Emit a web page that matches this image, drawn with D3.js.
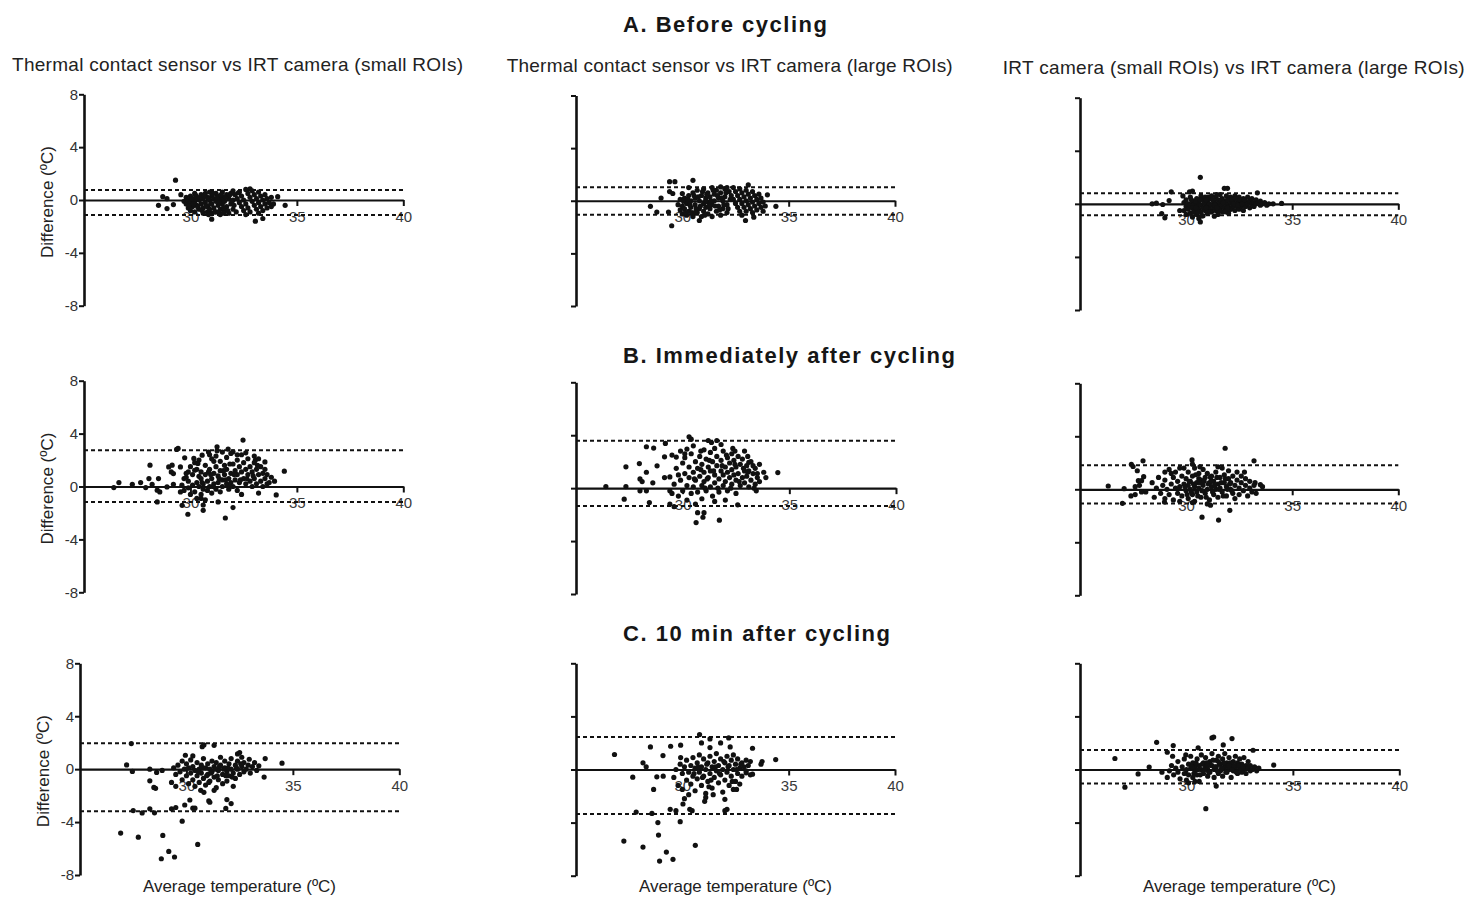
<!DOCTYPE html>
<html>
<head>
<meta charset="utf-8">
<script src="https://cdn.jsdelivr.net/npm/d3@7"></script>
<style>
  body { margin: 0; background: #fff; }
  svg { display: block; }
  text { font-family: "Liberation Sans", Arial, Helvetica, sans-serif; }
</style>
</head>
<body>
<svg id="chart" width="1469" height="897"></svg>
<script>
// Bland–Altman plots: difference vs average temperature (ºC)

const sectionTitles = ["A. Before cycling", "B. Immediately after cycling", "C. 10 min after cycling"];
const columnTitles = [
  "Thermal contact sensor vs IRT camera (small ROIs)",
  "Thermal contact sensor vs IRT camera (large ROIs)",
  "IRT camera (small ROIs) vs IRT camera (large ROIs)"
];
const yAxisTitle = "Difference (ºC)";
const xAxisTitle = "Average temperature (ºC)";
const xTicks = [30, 35, 40];
const yTicks = [-8, -4, 0, 4, 8];

// Limits of agreement (upper / lower), row by row, column by column
const loaUpper = [0.76, 1.03, 0.79, 2.75, 3.58, 1.82, 1.95, 2.45, 1.46];
const loaLower = [-1.14, -1.06, -0.86, -1.17, -1.34, -1.08, -3.18, -3.36, -1.06];

// [average temperature, difference]
const beforeSmall = [
 [29.3,1.5],[28.7,0.25],[28.9,0.1],[28.5,-0.4],[28.9,-0.65],[29.2,-0.35],[29.55,0.4],[31.0,-1.45],[33.05,-1.6],[33.4,-1.4],[34.1,0.25],[34.45,-0.4],[32.8,0.85],
 [29.7,-0.1],[29.8,0.2],[29.8,-0.3],[29.9,-0.6],[29.9,0.0],[30.0,0.3],[30.0,-0.2],[30.0,-0.8],[30.1,0.1],[30.1,-0.5],[30.2,0.5],[30.2,-0.1],[30.2,-0.9],[30.3,0.2],[30.3,-0.4],[30.4,0.0],[30.4,-0.7],[30.5,0.4],[30.5,-0.3],[30.6,0.1],[30.6,-1.0],[30.6,-0.6],
 [30.7,0.5],[30.7,-0.2],[30.8,0.2],[30.8,-0.5],[30.8,-0.9],[30.9,0.6],[30.9,0.0],[30.9,-0.7],[31.0,0.3],[31.0,-0.3],[31.0,-1.0],[31.1,0.1],[31.1,-0.6],[31.2,0.5],[31.2,-0.1],[31.2,-0.9],[31.3,0.3],[31.3,-0.4],[31.4,0.0],[31.4,-0.7],[31.4,-1.1],[31.5,0.6],[31.5,0.2],[31.5,-0.3],[31.6,-0.1],[31.6,-0.8],[31.7,0.4],[31.7,-0.5],[31.8,0.1],[31.8,-1.0],[31.9,0.5],[31.9,-0.3],[32.0,0.0],[32.0,-0.7],
 [29.95,-0.45],[30.05,0.1],[30.15,-0.3],[30.25,0.35],[30.35,-0.55],[30.45,0.2],[30.55,-0.8],[30.65,0.35],[30.75,-0.45],[30.85,0.1],[30.95,-0.3],[31.05,0.5],[31.15,-0.9],[31.25,0.15],[31.35,-0.2],[31.45,0.4],[31.55,-0.6],[31.65,0.2],[31.75,-0.8],[31.85,0.4],[31.95,-0.1],[32.05,-0.4],[32.15,-0.9],[32.25,0.55],[31.35,-0.9],[30.85,-1.1],[31.55,-1.0],
 [32.0,0.7],[32.1,0.4],[32.2,0.1],[32.3,-0.2],[32.4,-0.5],[32.5,-0.8],[32.6,-1.1],
 [32.3,0.6],[32.4,0.3],[32.5,0.0],[32.6,-0.3],[32.7,-0.6],[32.8,-0.9],
 [32.6,0.8],[32.7,0.5],[32.8,0.2],[32.9,-0.1],[33.0,-0.4],[33.1,-0.7],[33.2,-1.0],
 [32.9,0.7],[33.0,0.4],[33.1,0.1],[33.2,-0.2],[33.3,-0.5],[33.4,-0.8],
 [33.2,0.6],[33.3,0.3],[33.4,0.0],[33.5,-0.3],[33.6,-0.6],
 [33.5,0.4],[33.6,0.1],[33.7,-0.2],[33.8,-0.5],[33.8,0.2],[33.9,-0.3]
];

const beforeLarge = [
 [29.4,1.45],[29.65,1.45],[30.5,1.55],[29.4,0.7],[29.55,0.55],[30.0,0.55],[30.3,1.0],[29.0,0.2],[28.5,-0.42],[28.8,-0.86],[29.35,-0.86],[29.5,-1.9],[30.8,-1.5],[32.97,-1.5],[33.36,-1.25],[34.0,0.45],[34.4,-0.42],[33.1,1.2],[31.8,1.05],
 [29.8,-0.3],[29.9,-0.7],[29.9,0.1],[30.0,-1.0],[30.0,-0.4],[30.1,0.2],[30.1,-0.6],[30.2,-1.1],[30.2,-0.2],[30.3,0.4],[30.3,-0.8],[30.4,0.0],[30.4,-0.5],[30.5,-1.2],[30.5,0.6],[30.6,-0.3],[30.6,0.2],[30.7,-0.9],[30.7,0.8],[30.8,0.0],[30.8,-0.6],[30.9,0.4],[30.9,-1.2],[31.0,-0.2],[31.0,0.9],[31.0,-0.8],[31.1,0.2],[31.1,-0.5],[31.2,0.6],[31.2,-1.0],[31.2,-0.1],[31.3,0.3],[31.3,-0.6],[31.4,1.0],[31.4,-0.3],[31.4,-1.2],[31.5,0.5],[31.5,0.0],[31.6,-0.8],[31.6,0.8],[31.7,0.2],[31.7,-0.4],[31.8,-1.1],[31.8,0.6],[31.9,0.0],[31.9,-0.6],[32.0,0.9],[32.0,0.3],[32.1,-0.3],[32.1,-0.9],
 [30.05,0.0],[30.15,-0.9],[30.25,0.1],[30.35,-0.3],[30.45,-0.9],[30.55,0.4],[30.65,-0.6],[30.75,0.3],[30.85,-0.4],[30.95,0.7],[31.05,-1.1],[31.15,0.5],[31.25,-0.4],[31.35,0.0],[31.45,0.8],[31.55,-0.4],[31.65,0.4],[31.75,-0.7],[31.85,0.2],[31.95,-0.3],[32.05,0.6],[32.15,-0.6],[32.25,0.1],[31.1,0.0],[30.6,-0.9],
 [32.1,1.0],[32.2,0.7],[32.3,0.4],[32.4,0.1],[32.5,-0.2],[32.6,-0.5],[32.7,-0.8],[32.8,-1.1],
 [32.4,1.0],[32.5,0.7],[32.6,0.4],[32.7,0.1],[32.8,-0.2],[32.9,-0.5],[33.0,-0.8],
 [32.7,0.9],[32.8,0.6],[32.9,0.3],[33.0,0.0],[33.1,-0.3],[33.2,-0.6],[33.3,-0.9],
 [33.0,0.8],[33.1,0.5],[33.2,0.2],[33.3,-0.1],[33.4,-0.4],[33.5,-0.7],
 [33.3,0.7],[33.4,0.4],[33.5,0.1],[33.6,-0.2],[33.7,-0.5],[33.8,-0.8],
 [33.6,0.5],[33.7,0.2],[33.8,-0.1],[33.9,-0.4]
];

const beforeRoi = [
 [30.67,2.0],[30.67,-1.36],[29.3,0.91],[30.16,0.91],[30.3,0.96],[28.4,0.0],[28.6,0.05],[28.9,-0.05],[28.85,-0.73],[29.0,-1.05],[29.7,-0.5],[29.2,0.25],[29.85,0.6],[31.8,1.17],[31.95,1.17],[33.36,0.83],[34.5,0.03],[31.33,-0.93],
 [29.9,0.1],[29.9,-0.5],[30.0,0.3],[30.0,-0.2],[30.0,-0.8],[30.1,0.0],[30.1,-0.4],[30.2,0.5],[30.2,-0.1],[30.2,-0.7],[30.3,0.2],[30.3,-0.3],[30.3,-1.0],[30.4,0.0],[30.4,-0.5],[30.5,0.4],[30.5,-0.2],[30.5,-0.8],[30.6,0.1],[30.6,-0.4],[30.6,-1.1],[30.7,0.6],[30.7,-0.1],[30.7,-0.6],[30.8,0.3],[30.8,-0.3],[30.8,-0.9],[30.9,0.0],[30.9,-0.5],[30.9,0.5],[31.0,0.2],[31.0,-0.2],[31.0,-0.7],[31.1,0.4],[31.1,-0.4],[31.1,0.0],[31.2,0.6],[31.2,-0.1],[31.2,-0.6],[31.3,0.2],[31.3,-0.3],[31.4,0.5],[31.4,0.0],[31.4,-0.5],[31.5,0.3],[31.5,-0.2],[31.5,-0.8],[31.6,0.7],[31.6,0.1],[31.6,-0.4],[31.7,0.4],[31.7,-0.1],[31.7,-0.6],[31.8,0.2],[31.8,-0.3],[31.9,0.6],[31.9,0.0],[31.9,-0.5],[32.0,0.3],[32.0,-0.2],[32.0,-0.7],[32.1,0.5],[32.1,0.1],[32.1,-0.4],[32.2,0.2],[32.2,-0.2],[32.3,0.6],[32.3,0.0],[32.3,-0.5],[32.4,0.3],[32.4,-0.2],[32.5,0.1],[32.5,-0.4],[32.5,0.5],[32.6,0.2],[32.6,-0.2],[32.7,0.4],[32.7,0.0],[32.7,-0.5],[32.8,0.2],[32.8,-0.2],[32.9,0.5],[32.9,0.0],[33.0,0.2],[33.0,-0.3],[33.1,0.4],[33.1,0.0],[33.2,0.1],[33.2,-0.2],[33.3,0.3],[33.3,0.0],[33.4,0.1],[33.5,-0.1],[33.5,0.2],[33.6,0.0],[33.7,0.1],[33.8,-0.1],[33.9,0.0],[34.1,0.0],
 [30.25,0.3],[30.35,-0.6],[30.45,0.2],[30.55,-0.6],[30.65,0.3],[30.75,-0.9],[30.85,0.1],[30.95,-0.3],[31.05,0.5],[31.15,-0.6],[31.25,0.3],[31.35,-0.1],[31.45,0.7],[31.55,-0.5],[31.65,0.3],[31.75,0.1],[31.85,-0.6],[31.95,0.3],[32.05,-0.4],[32.15,0.3],[32.25,0.0],[32.35,0.4],[32.45,-0.1],[32.55,0.3],[32.65,0.0],[32.75,0.3],[30.45,-0.3],[30.95,0.3],[31.45,-0.3],[31.95,-0.3]
];

const immSmall = [
 [26.4,-0.08],[26.64,0.3],[27.27,0.17],[27.66,0.3],[27.9,-0.08],[28.05,0.6],[28.1,1.61],[28.2,0.17],[28.44,-0.28],[28.56,-0.41],[28.5,0.6],[28.44,-1.17],[28.9,-0.03],[28.98,1.48],[29.14,1.61],[29.1,1.1],[29.2,0.98],[29.35,2.8],[29.42,2.88],[29.2,0.17],[29.53,1.48],[29.53,-0.41],[29.61,-1.42],[29.73,2.17],[29.88,-2.1],[29.8,0.7],[29.9,1.1],[30.16,2.12],[30.2,1.23],[30.35,1.74],[30.4,0.77],[30.55,2.37],[30.5,-0.9],[30.6,-1.4],[30.6,-1.8],[30.85,2.6],[30.9,2.4],[31.25,3.0],[31.1,1.9],[31.3,-1.17],[31.77,2.83],[31.85,1.7],[31.64,-2.38],[32.0,-1.59],[32.0,2.62],[32.2,2.4],[32.47,3.51],[32.6,2.55],[32.4,-0.6],[33.0,2.3],[33.05,2.0],[33.5,1.86],[33.2,-0.5],[33.6,0.2],[33.8,0.7],[33.95,0.4],[34.03,-0.64],[34.41,1.16],
 [29.6,0.1],[29.7,-0.3],[29.7,0.6],[29.8,1.0],[29.9,-0.1],[29.9,0.4],[30.0,1.5],[30.0,-0.6],[30.1,0.1],[30.1,0.9],[30.2,-0.4],[30.2,1.8],[30.3,0.3],[30.3,-0.9],[30.3,1.3],[30.4,0.0],[30.4,2.0],[30.5,-0.6],[30.5,0.6],[30.5,1.1],[30.6,-0.2],[30.6,0.2],[30.7,-1.0],[30.7,0.9],[30.7,1.6],[30.8,0.4],[30.8,-0.3],[30.9,1.3],[30.9,0.0],[31.0,2.1],[31.0,0.6],[31.0,-0.5],[31.1,1.0],[31.1,0.2],[31.2,2.3],[31.2,1.5],[31.2,-0.2],[31.3,0.8],[31.3,0.3],[31.4,1.9],[31.4,1.2],[31.4,-0.4],[31.5,0.5],[31.5,2.6],[31.5,0.0],[31.6,1.6],[31.6,0.9],[31.7,0.2],[31.7,2.2],[31.7,1.3],[31.8,0.6],[31.8,-0.2],[31.9,1.0],[31.9,2.5],[31.9,0.3],[32.0,1.7],[32.0,0.0],[32.1,1.2],[32.1,0.5],[32.2,2.0],[32.2,0.9],[32.2,-0.3],[32.3,1.5],[32.3,0.3],[32.4,1.1],[32.4,2.4],[32.5,0.6],[32.5,1.8],[32.6,0.2],[32.6,1.3],[32.7,0.9],[32.7,2.1],[32.8,0.4],[32.8,1.5],[32.9,1.1],[32.9,0.0],[33.0,1.8],[33.0,0.6],[33.1,1.3],[33.1,0.2],[33.2,0.9],[33.2,2.1],[33.3,1.5],[33.3,0.4],[33.4,1.0],[33.4,0.0],[33.5,0.6],[33.5,1.3],[33.6,0.9],[33.7,0.3],
 [30.55,0.3],[30.85,1.1],[31.05,0.0],[31.35,0.6],[31.55,1.2],[31.85,0.0],[32.05,0.9],[32.35,0.5],[32.65,0.6],[32.95,0.8],[33.15,1.6],[31.25,2.7],[31.65,0.5],[30.95,0.9]
];

const immLarge = [
 [26.4,0.12],[27.34,0.12],[27.34,1.61],[27.26,-0.83],[27.97,1.86],[28.0,0.7],[28.1,0.5],[28.0,-0.2],[28.3,-0.2],[28.3,3.13],[28.64,3.03],[28.3,1.2],[28.44,-1.09],[28.6,0.4],[28.8,1.69],[29.15,2.37],[29.19,3.38],[29.15,0.8],[29.4,0.85],[29.5,2.5],[29.7,2.35],[29.4,-0.2],[29.5,-0.4],[29.4,-1.2],[29.6,-1.4],[29.9,2.8],[30.1,2.6],[29.8,1.0],[30.3,3.88],[30.4,3.7],[30.2,2.95],[30.5,3.2],[30.7,-1.85],[31.0,-1.85],[30.95,-2.2],[30.63,-2.6],[30.85,2.8],[31.2,3.6],[31.35,3.45],[31.6,3.6],[31.72,-2.42],[31.5,-1.0],[32.0,-0.9],[31.8,3.3],[32.35,3.0],[32.45,2.8],[32.9,2.8],[32.58,-1.26],[33.05,2.4],[33.1,1.95],[33.3,1.7],[33.6,1.8],[33.8,1.2],[33.9,0.8],[33.6,0.5],[33.35,0.0],[33.45,-0.2],[34.46,1.18],[32.5,-0.4],
 [29.6,0.3],[29.7,1.5],[29.8,-0.6],[29.9,0.6],[30.0,1.9],[30.0,-0.2],[30.1,1.1],[30.1,2.3],[30.2,0.2],[30.2,-0.9],[30.3,1.6],[30.3,0.8],[30.4,2.6],[30.4,-0.4],[30.5,1.2],[30.5,0.1],[30.6,2.0],[30.6,0.6],[30.6,-1.2],[30.7,1.5],[30.7,-0.3],[30.8,2.4],[30.8,0.9],[30.9,0.2],[30.9,1.8],[30.9,-0.8],[31.0,2.9],[31.0,1.2],[31.0,0.5],[31.1,2.2],[31.1,-0.2],[31.2,1.6],[31.2,0.8],[31.3,2.7],[31.3,0.1],[31.3,1.3],[31.4,2.0],[31.4,-0.6],[31.5,1.0],[31.5,3.0],[31.5,0.4],[31.6,1.7],[31.6,2.4],[31.7,0.7],[31.7,-0.3],[31.8,1.3],[31.8,2.1],[31.9,0.2],[31.9,1.0],[31.9,2.8],[32.0,1.6],[32.0,0.5],[32.1,2.3],[32.1,1.2],[32.1,-0.2],[32.2,0.8],[32.2,1.9],[32.3,2.6],[32.3,0.3],[32.3,1.4],[32.4,1.0],[32.4,2.1],[32.5,0.6],[32.5,1.6],[32.6,2.4],[32.6,1.1],[32.7,0.2],[32.7,1.8],[32.8,0.8],[32.8,2.2],[32.9,1.3],[32.9,0.4],[33.0,1.7],[33.0,0.9],[33.1,0.1],[33.1,1.3],[33.2,2.0],[33.2,0.6],[33.3,1.1],[33.4,0.3],[33.4,1.5],[33.5,0.8],[33.5,1.1],
 [30.55,0.7],[30.85,1.4],[31.05,0.0],[31.25,2.1],[31.45,1.3],[31.65,0.0],[31.85,1.7],[32.05,2.5],[32.25,0.0],[32.45,1.8],[32.65,0.5],[32.85,1.5],[33.05,1.2],[31.15,0.7]
];

const immRoi = [
 [26.33,0.25],[27.08,0.05],[27.0,-1.06],[27.42,1.89],[27.5,1.72],[27.97,2.15],[27.7,1.4],[27.75,0.65],[27.4,-0.5],[27.6,-0.4],[27.6,0.2],[27.8,0.3],[28.0,0.95],[27.9,0.65],[27.9,-0.2],[28.1,-0.2],[28.98,-0.96],[29.0,1.3],[29.3,1.2],[30.28,2.22],[29.7,1.6],[30.3,-1.0],[30.75,-2.1],[31.53,-2.32],[31.84,3.1],[32.06,-1.59],[33.2,2.15],[32.75,1.3],[33.25,0.5],[33.5,0.35],[33.6,0.2],[33.3,-0.3],[31.0,-1.1],[31.15,-1.2],[31.5,1.7],[30.3,1.9],[30.65,1.7],
 [28.4,0.5],[28.5,-0.6],[28.6,0.1],[28.7,0.9],[28.8,-0.3],[28.9,0.3],[29.0,-0.7],[29.0,0.7],[29.1,0.0],[29.2,1.5],[29.2,-0.4],[29.3,0.4],[29.4,-0.8],[29.4,0.9],[29.5,0.1],[29.5,1.3],[29.6,-0.3],[29.6,0.6],[29.7,-0.9],[29.7,0.2],[29.8,1.0],[29.8,-0.5],[29.9,0.4],[29.9,1.6],[30.0,-0.1],[30.0,0.8],[30.1,-0.7],[30.1,0.3],[30.1,1.3],[30.2,0.0],[30.2,0.6],[30.3,-0.4],[30.3,1.0],[30.4,0.2],[30.4,1.6],[30.4,-0.9],[30.5,0.5],[30.5,-0.2],[30.6,1.2],[30.6,0.1],[30.7,-0.6],[30.7,0.7],[30.8,0.3],[30.8,1.5],[30.9,-0.3],[30.9,0.9],[31.0,0.0],[31.0,1.2],[31.1,0.5],[31.1,-0.8],[31.2,0.2],[31.2,1.0],[31.3,-0.4],[31.3,0.6],[31.4,1.3],[31.4,0.0],[31.5,0.4],[31.5,-0.6],[31.6,0.9],[31.6,0.1],[31.7,1.6],[31.7,-0.2],[31.8,0.5],[31.8,1.1],[31.9,-0.5],[31.9,0.2],[32.0,0.8],[32.0,1.4],[32.1,0.0],[32.1,0.5],[32.2,-0.3],[32.2,1.0],[32.3,0.3],[32.3,-0.7],[32.4,0.7],[32.4,1.3],[32.5,0.1],[32.5,-0.4],[32.6,0.5],[32.6,1.0],[32.7,-0.1],[32.8,0.3],[32.8,0.8],[32.9,-0.5],[33.0,0.1],[33.0,0.6],[33.1,-0.2],[33.2,0.3],
 [29.95,0.2],[30.05,-0.4],[30.15,0.6],[30.25,-0.2],[30.35,0.4],[30.45,1.1],[30.55,-0.5],[30.65,0.5],[30.75,-0.1],[30.85,0.6],[30.95,-0.6],[31.05,0.4],[31.15,0.9],[31.25,-0.2],[31.35,0.3],[31.45,0.9],[31.55,0.0],[31.65,0.5],[31.75,-0.5],[31.85,0.8],[31.95,0.0],[32.05,0.4],[32.15,-0.1],[31.2,0.6],[30.6,0.8]
];

const tenSmall = [
 [27.41,1.93],[27.19,0.32],[27.46,-0.17],[28.28,0.0],[28.28,-0.88],[28.47,-1.38],[28.55,-1.45],[28.6,-0.25],[28.86,-0.1],[27.5,-3.13],[27.92,-3.31],[28.28,-3.0],[28.5,-3.3],[26.91,-4.83],[27.74,-5.14],[28.89,-5.01],[29.17,-6.22],[28.82,-6.77],[29.44,-6.64],[29.8,-3.93],[30.53,-5.69],[29.3,-3.0],[29.5,-2.9],[29.92,-2.71],[30.16,-2.33],[30.3,-2.95],[30.4,-2.95],[29.3,-1.0],[29.5,-1.3],[29.95,1.05],[30.3,1.0],[30.74,1.7],[30.82,1.83],[31.3,1.8],[30.67,-1.6],[30.82,-1.75],[31.05,-2.4],[31.1,-2.5],[31.3,-1.6],[31.9,-2.3],[32.1,-2.6],[31.85,-2.97],[32.4,1.15],[32.5,1.25],[32.95,0.75],[33.4,0.25],[33.7,0.8],[33.65,-0.6],[34.49,0.45],
 [29.4,0.1],[29.5,-0.4],[29.6,0.3],[29.7,-0.2],[29.8,0.6],[29.8,-0.8],[29.9,0.0],[30.0,-0.5],[30.0,0.4],[30.1,-1.1],[30.1,0.1],[30.2,0.7],[30.2,-0.3],[30.3,-0.8],[30.3,0.2],[30.4,-0.1],[30.4,-1.3],[30.5,0.5],[30.5,-0.5],[30.6,0.0],[30.6,-1.0],[30.7,0.3],[30.7,-0.3],[30.8,-0.7],[30.8,0.8],[30.9,0.1],[30.9,-1.2],[31.0,-0.4],[31.0,0.4],[31.1,-0.9],[31.1,0.0],[31.2,0.6],[31.2,-0.2],[31.3,-0.6],[31.3,0.2],[31.4,-1.4],[31.4,0.5],[31.5,-0.1],[31.5,-0.8],[31.6,0.3],[31.6,0.9],[31.7,-0.4],[31.7,-1.1],[31.8,0.1],[31.8,0.6],[31.9,-0.2],[31.9,-0.9],[32.0,0.4],[32.0,-0.5],[32.1,0.0],[32.1,0.8],[32.2,-0.3],[32.2,-1.3],[32.3,0.3],[32.3,-0.7],[32.4,0.6],[32.4,0.0],[32.5,-0.4],[32.6,0.2],[32.6,0.9],[32.7,-0.2],[32.7,0.5],[32.8,0.0],[32.9,0.3],[33.0,-0.3],[33.1,0.2],[33.2,0.5],[33.3,-0.1],
 [30.55,-0.2],[30.75,0.1],[30.95,-0.5],[31.15,-0.3],[31.35,0.0],[31.55,0.2],[31.75,0.0],[31.95,0.1],[32.15,-0.6],[32.35,0.1],[32.55,0.4],[31.45,-0.5],[31.05,-1.0],[31.85,-0.5]
];

const tenLarge = [
 [26.81,1.13],[27.67,-0.58],[28.15,0.5],[28.3,0.2],[28.5,1.7],[28.8,-0.55],[29.1,-0.5],[29.09,1.05],[28.65,-1.5],[29.45,1.75],[29.92,1.83],[29.92,0.9],[27.83,-3.21],[28.57,-3.31],[28.85,-4.0],[28.88,-4.94],[27.25,-5.39],[28.15,-5.84],[29.25,-6.22],[28.93,-6.9],[29.56,-6.77],[30.61,-5.71],[29.9,-3.93],[29.43,-3.0],[29.7,-3.1],[30.03,-2.6],[30.35,-3.0],[30.46,-3.1],[30.1,-2.2],[30.81,2.63],[31.3,2.3],[30.9,2.0],[31.3,1.65],[31.8,2.0],[32.18,2.38],[32.25,1.7],[33.3,1.6],[33.75,0.6],[33.7,0.4],[34.39,0.75],[31.1,-2.1],[31.05,-2.4],[32.0,-2.25],[32.1,-3.0],[32.0,-3.1],[32.4,-1.5],[32.55,-1.5],[33.0,-0.25],[33.3,-0.35],
 [29.6,-0.6],[29.7,0.0],[29.8,-1.2],[29.9,0.4],[30.0,-0.3],[30.0,-1.5],[30.1,0.2],[30.2,-0.8],[30.2,0.7],[30.3,-0.2],[30.3,-1.9],[30.4,0.3],[30.4,-1.1],[30.5,-0.5],[30.5,0.9],[30.6,0.1],[30.6,-1.6],[30.7,-0.7],[30.7,0.5],[30.8,-0.2],[30.8,1.1],[30.9,-1.2],[30.9,0.2],[31.0,-0.5],[31.0,0.8],[31.1,-1.8],[31.1,0.0],[31.2,0.5],[31.2,-0.9],[31.3,-0.3],[31.3,1.0],[31.4,0.2],[31.4,-1.4],[31.5,-0.6],[31.5,0.6],[31.6,-0.1],[31.6,1.2],[31.7,-1.0],[31.7,0.3],[31.8,-0.4],[31.8,0.8],[31.9,-1.7],[31.9,0.0],[32.0,0.5],[32.0,-0.8],[32.1,1.0],[32.1,-0.2],[32.2,-1.2],[32.2,0.3],[32.3,0.7],[32.3,-0.5],[32.4,0.0],[32.4,1.1],[32.5,-0.9],[32.5,0.4],[32.6,-0.3],[32.6,0.8],[32.7,0.1],[32.7,-1.1],[32.8,0.5],[32.8,-0.5],[32.9,0.2],[33.0,0.7],[33.0,-0.1],[33.1,0.3],[33.2,-0.4],[33.2,0.6],
 [30.55,-0.3],[30.75,0.2],[30.95,-0.6],[31.15,0.4],[31.35,-0.8],[31.55,0.2],[31.75,-0.3],[31.95,0.6],[32.15,0.2],[32.35,-0.9],[32.55,0.0],[32.75,0.4],[31.45,-1.9],[31.25,-1.3]
];

const tenRoi = [
 [26.64,0.83],[27.11,-1.33],[27.73,-0.33],[28.25,0.18],[28.6,2.05],[29.38,1.8],[29.1,1.3],[29.35,1.0],[29.97,1.1],[28.85,-0.2],[29.1,-0.6],[30.55,1.63],[31.2,2.38],[31.28,2.45],[31.73,1.85],[32.14,2.33],[30.91,-2.95],[31.4,-1.25],[33.13,1.45],[34.1,0.33],[30.1,-1.0],[30.4,-0.9],
 [29.2,-0.1],[29.3,0.3],[29.4,-0.4],[29.5,0.1],[29.6,0.6],[29.6,-0.2],[29.7,-0.7],[29.8,0.2],[29.9,-0.3],[29.9,0.8],[30.0,0.0],[30.0,-0.8],[30.1,0.4],[30.1,-0.4],[30.2,0.1],[30.2,1.0],[30.3,-0.6],[30.3,0.5],[30.4,-0.1],[30.4,0.2],[30.5,0.8],[30.5,-0.4],[30.6,0.3],[30.6,-0.9],[30.7,0.0],[30.7,1.1],[30.8,0.5],[30.8,-0.3],[30.9,0.2],[30.9,0.9],[31.0,-0.5],[31.0,0.0],[31.1,0.6],[31.1,-0.2],[31.2,0.3],[31.2,1.2],[31.3,-0.6],[31.3,0.0],[31.4,0.7],[31.4,0.2],[31.5,-0.3],[31.5,1.0],[31.6,0.4],[31.6,-0.1],[31.7,0.8],[31.7,-0.5],[31.8,0.2],[31.8,1.2],[31.9,-0.2],[31.9,0.5],[32.0,0.0],[32.0,0.9],[32.1,-0.6],[32.1,0.3],[32.2,0.6],[32.2,-0.1],[32.3,1.0],[32.3,0.2],[32.4,-0.3],[32.4,0.5],[32.5,0.1],[32.5,0.8],[32.6,-0.2],[32.6,0.4],[32.7,0.0],[32.7,0.9],[32.8,0.3],[32.8,-0.3],[32.9,0.1],[32.9,0.6],[33.0,-0.1],[33.0,0.3],[33.1,0.0],[33.2,0.2],[33.3,-0.1],[33.4,0.1],
 [30.25,0.2],[30.35,-0.3],[30.45,0.5],[30.55,0.0],[30.65,-0.4],[30.75,0.4],[30.85,0.0],[30.95,0.5],[31.05,-0.2],[31.15,0.3],[31.25,0.7],[31.35,0.2],[31.45,-0.1],[31.55,0.4],[31.65,0.1],[31.75,0.5],[31.85,-0.2],[31.95,0.2],[32.05,0.5],[32.15,0.0],[32.25,0.3],[32.35,-0.2],[32.45,0.3],[32.55,0.0],[32.65,0.2],[31.0,0.3],[31.5,0.6],[32.0,0.3]
];

const panelData = [beforeSmall, beforeLarge, beforeRoi, immSmall, immLarge, immRoi, tenSmall, tenLarge, tenRoi];

// Plot frames in pixels: x-range for 25..40 ºC, y-range for -8..8 ºC
const frames = [
  { x: [84, 403.3],   y: [305.7, 94.3] },
  { x: [576, 895],    y: [306, 95.5] },
  { x: [1080, 1398.3],y: [310, 97.7] },
  { x: [84, 403.3],   y: [592.3, 380.7] },
  { x: [576, 896],    y: [594, 382.3] },
  { x: [1080, 1398.3],y: [595.3, 383.3] },
  { x: [80, 399.3],   y: [875, 663.3] },
  { x: [576, 895],    y: [875.7, 663.3] },
  { x: [1080, 1399.3],y: [875.7, 663.3] }
];

const svg = d3.select("#chart");
svg.append("rect").attr("width", 1469).attr("height", 897).attr("fill", "#fff");

// Section titles
const titlePos = [{ x: 623, y: 32.3, w: 204 }, { x: 623, y: 363.3, w: 332 }, { x: 623, y: 640.7, w: 267 }];
sectionTitles.forEach((t, i) => {
  svg.append("text")
    .attr("x", titlePos[i].x).attr("y", titlePos[i].y)
    .attr("font-size", 22).attr("font-weight", "bold").attr("fill", "#161616")
    .attr("textLength", titlePos[i].w).attr("lengthAdjust", "spacing")
    .text(t);
});

// Column titles
const colTitlePos = [{ x: 12, y: 70.7, w: 451 }, { x: 506.7, y: 71.7, w: 446 }, { x: 1002.7, y: 74, w: 462 }];
columnTitles.forEach((t, i) => {
  svg.append("text")
    .attr("x", colTitlePos[i].x).attr("y", colTitlePos[i].y)
    .attr("font-size", 19).attr("fill", "#222")
    .attr("textLength", colTitlePos[i].w).attr("lengthAdjust", "spacing")
    .text(t);
});

const fontStack = '"Liberation Sans", Arial, sans-serif';

panelData.forEach((data, i) => {
  const row = Math.floor(i / 3), col = i % 3;
  const f = frames[i];
  const x = d3.scaleLinear().domain([25, 40]).range(f.x);
  const y = d3.scaleLinear().domain([-8, 8]).range(f.y);
  const g = svg.append("g");

  // y axis
  const yAxis = d3.axisLeft(y).tickValues(yTicks).tickSize(5).tickSizeOuter(0).tickPadding(1)
    .tickFormat(col === 0 ? (d => String(d)) : () => "");
  const ya = g.append("g").attr("transform", `translate(${x(25)},0)`).call(yAxis);
  ya.select(".domain").attr("stroke", "#111").attr("stroke-width", 2.6);
  ya.selectAll(".tick line").attr("stroke", "#111").attr("stroke-width", 2);
  ya.selectAll(".tick text").attr("font-size", 15).attr("fill", "#333").attr("font-family", fontStack);

  // x axis along zero difference
  const xAxis = d3.axisBottom(x).tickValues(xTicks).tickSize(6).tickSizeOuter(0).tickPadding(5)
    .tickFormat(d => String(d));
  const xa = g.append("g").attr("transform", `translate(0,${y(0)})`).call(xAxis);
  xa.select(".domain").attr("stroke", "#111").attr("stroke-width", 2.2);
  xa.selectAll(".tick line").attr("stroke", "#111").attr("stroke-width", 2);
  xa.selectAll(".tick text").attr("font-size", 15).attr("fill", "#3a3a3a").attr("font-family", fontStack);

  // limits of agreement
  [loaUpper[i], loaLower[i]].forEach(v => {
    g.append("line")
      .attr("x1", x(25)).attr("x2", x(40))
      .attr("y1", y(v)).attr("y2", y(v))
      .attr("stroke", "#111").attr("stroke-width", 2)
      .attr("stroke-dasharray", "4,3");
  });

  // observations
  g.append("g").selectAll("circle").data(data).join("circle")
    .attr("cx", d => x(d[0])).attr("cy", d => y(d[1]))
    .attr("r", 2.6).attr("fill", "#111");

  // axis titles
  if (col === 0) {
    const yMid = (f.y[0] + f.y[1]) / 2;
    svg.append("text")
      .attr("transform", `translate(${f.x[0] - 31},${yMid + 2}) rotate(-90)`)
      .attr("text-anchor", "middle").attr("font-size", 17).attr("fill", "#222")
      .attr("textLength", 112).attr("lengthAdjust", "spacing")
      .text(yAxisTitle);
  }
  if (row === 2) {
    svg.append("text")
      .attr("x", x(25) + 63).attr("y", 891.5)
      .attr("font-size", 17).attr("fill", "#222")
      .attr("textLength", 193).attr("lengthAdjust", "spacing")
      .text(xAxisTitle);
  }
});
</script>
</body>
</html>
